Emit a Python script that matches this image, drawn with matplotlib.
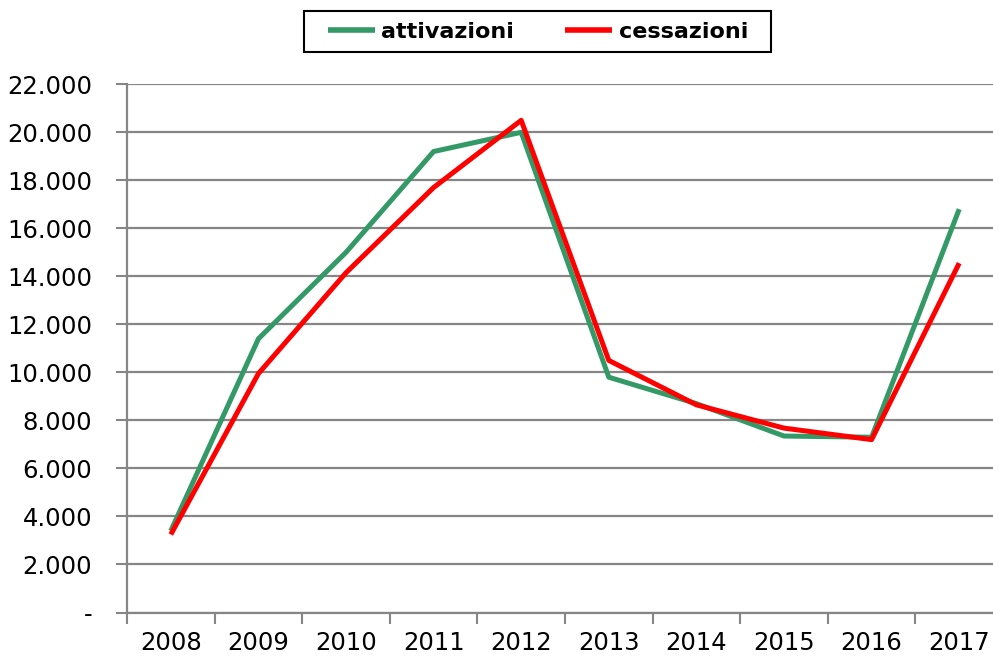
import matplotlib
matplotlib.use('Agg')
import matplotlib.pyplot as plt
from matplotlib.patches import Rectangle
from matplotlib.ticker import FuncFormatter, FixedLocator

anni = ['2008', '2009', '2010', '2011', '2012', '2013', '2014', '2015', '2016', '2017']
attivazioni = [3400, 11400, 15000, 19200, 20000, 9800, 8700, 7350, 7300, 16800]
cessazioni = [3250, 9950, 14150, 17700, 20500, 10500, 8650, 7680, 7200, 14550]

plt.rcParams['font.family'] = ['DejaVu Sans']
grigio = '#868686'

fig = plt.figure(figsize=(9.93, 6.57), dpi=100)
ax = fig.add_axes([127/993, 44.5/657, 876/993, 528.2/657])

x = [i + 0.5 for i in range(len(anni))]
ax.plot(x, attivazioni, color='#339966', linewidth=3.6, label='attivazioni', zorder=3, solid_capstyle='butt')
ax.plot(x, cessazioni, color='#ff0000', linewidth=3.6, label='cessazioni', zorder=4, solid_capstyle='butt')

ax.set_xlim(0, len(anni))
ax.set_ylim(0, 22000)
ax.set_yticks(range(0, 22001, 2000))

def fmt(v, pos):
    if v == 0:
        return '-'
    return '{:,.0f}'.format(v).replace(',', '.')
ax.yaxis.set_major_formatter(FuncFormatter(fmt))

ax.xaxis.set_major_locator(FixedLocator(range(len(anni) + 1)))
ax.xaxis.set_minor_locator(FixedLocator(x))
ax.set_xticklabels([], minor=False)
ax.set_xticklabels(anni, minor=True)
ax.tick_params(axis='x', which='major', length=8, width=1.5, color=grigio, direction='out')
ax.tick_params(axis='x', which='minor', length=0, pad=13, labelsize=17.5)
ax.tick_params(axis='y', length=8, width=1.5, color=grigio, pad=17, labelsize=17.5)

ax.grid(axis='y', color=grigio, linewidth=1.6)
ax.set_axisbelow(True)
for s in ['top', 'right']:
    ax.spines[s].set_visible(False)
for s in ['left', 'bottom']:
    ax.spines[s].set_color(grigio)
    ax.spines[s].set_linewidth(1.6)
    ax.spines[s].set_zorder(2)

# legenda con cornice disegnata a parte
fig.patches.append(Rectangle((304/993, 1 - 52/657), 467/993, 41/657, transform=fig.transFigure,
                             fill=False, edgecolor='black', linewidth=1.5))
leg = fig.legend(loc='center', bbox_to_anchor=(538/993, 1 - 31.5/657), ncol=2, frameon=False,
                 prop={'weight': 'bold', 'size': 16}, handlelength=2.1, handletextpad=0.3,
                 columnspacing=2.3, borderpad=0)
for h in leg.get_lines():
    h.set_linewidth(4)

plt.savefig('out.png', dpi=100)
